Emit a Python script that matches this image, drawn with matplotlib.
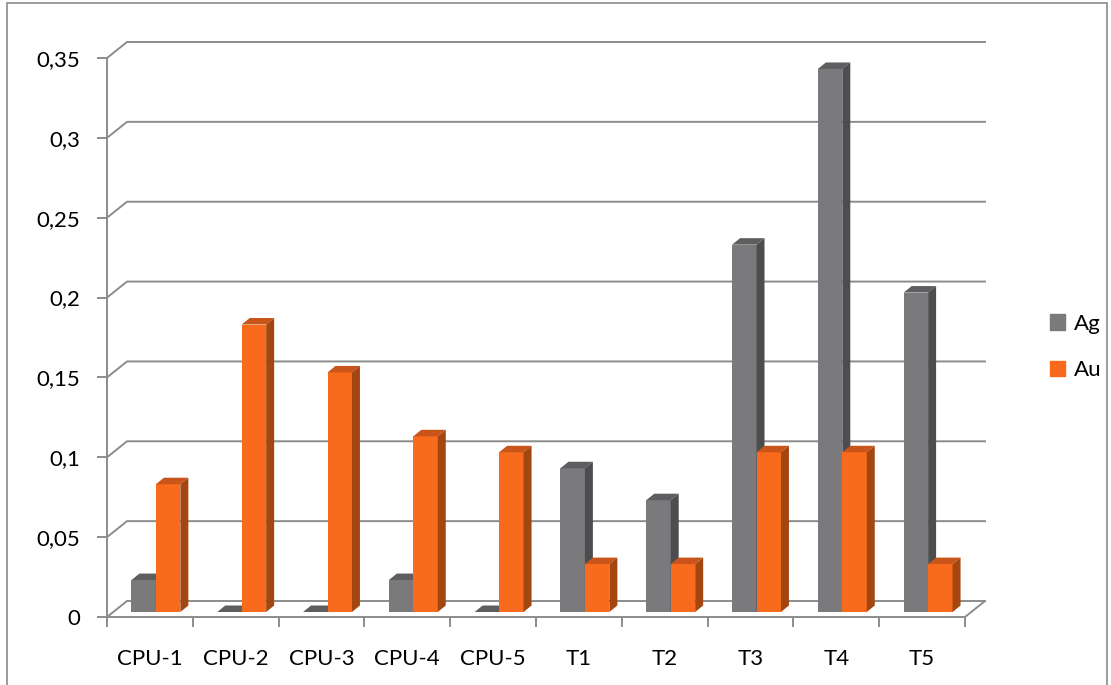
import matplotlib
matplotlib.use("Agg")
import matplotlib.pyplot as plt
from matplotlib.patches import Polygon, Rectangle, Patch
import numpy as np

plt.rcParams['font.family'] = ['Lato', 'DejaVu Sans']

# Data
categories = ["CPU-1", "CPU-2", "CPU-3", "CPU-4", "CPU-5", "T1", "T2", "T3", "T4", "T5"]
ag = [0.02, 0.0, 0.0, 0.02, 0.0, 0.09, 0.07, 0.23, 0.34, 0.20]
au = [0.08, 0.18, 0.15, 0.11, 0.10, 0.03, 0.03, 0.10, 0.10, 0.03]
yticks = [0, 0.05, 0.1, 0.15, 0.2, 0.25, 0.3, 0.35]
ytick_labels = ["0", "0,05", "0,1", "0,15", "0,2", "0,25", "0,3", "0,35"]

# Palette
C_GRID = "#8c8c8c"
C_AG = ("#7a7a7d", "#5e5e60", "#4d4d4f")   # front, top, side
C_AU = ("#f96b1c", "#c9551a", "#a3460f")
FS = 16

W, H = 1111, 685
fig = plt.figure(figsize=(W / 100, H / 100), dpi=100)
# front floor: x 107..965 px, front wall: y 617..58 px
ax = fig.add_axes([107 / W, (H - 617) / H, (965 - 107) / W, (617 - 58) / H])
ax.set_xlim(-0.5, 9.5)
ax.set_ylim(0, 0.35)

# pixel -> data scale
sx = 10 / (965 - 107)
sy = 0.35 / (617 - 58)
DX, DY = 20 * sx, 16 * sy          # wall depth

for s in ax.spines.values():
    s.set_visible(False)

# back wall gridlines + left wall slants
for v in yticks:
    ax.plot([-0.5, -0.5 + DX, 9.5 + DX], [v, v + DY, v + DY],
            color=C_GRID, lw=1.4, clip_on=False, zorder=1)
# floor
ax.plot([-0.5, 9.5, 9.5 + DX], [0, 0, DY], color=C_GRID, lw=1.4, clip_on=False, zorder=1)
# front wall edge
ax.plot([-0.5, -0.5], [0, 0.35], color=C_GRID, lw=1.4, clip_on=False, zorder=1)

# bars with depth
w = 0.285
shift = 6 * sx
base = 5 * sy
bdx, bdy = 8 * sx, 6.5 * sy
x = np.arange(len(categories))


def draw_bars(xc, vals, cols):
    ax.bar(xc, vals, w, bottom=base, color=cols[0], zorder=3, clip_on=False)
    for xi, v in zip(xc, vals):
        x0, x1 = xi - w / 2, xi + w / 2
        top = base + v
        ax.add_patch(Polygon([(x0, top), (x1, top), (x1 + bdx, top + bdy), (x0 + bdx, top + bdy)],
                             closed=True, facecolor=cols[1], edgecolor="none", zorder=3, clip_on=False))
        ax.add_patch(Polygon([(x1, base), (x1 + bdx, base + bdy), (x1 + bdx, top + bdy), (x1, top)],
                             closed=True, facecolor=cols[2], edgecolor="none", zorder=3, clip_on=False))


draw_bars(x + shift - w / 2, ag, C_AG)
draw_bars(x + shift + w / 2, au, C_AU)

# ticks
ax.set_yticks(yticks)
ax.set_yticklabels(ytick_labels)
ax.tick_params(axis="y", length=7, width=1.4, color=C_GRID, pad=12, labelsize=FS)
ax.set_xticks(np.arange(-0.5, 10, 1))
ax.set_xticklabels([])
ax.tick_params(axis="x", which="major", length=7, width=1.4, color=C_GRID)
ax.set_xticks(x, minor=True)
ax.set_xticklabels(categories, minor=True)
ax.tick_params(axis="x", which="minor", length=0, pad=23, labelsize=FS)

# legend
handles = [Patch(color=C_AG[0], label="Ag"), Patch(color=C_AU[0], label="Au")]
fig.legend(handles=handles, loc="center left", bbox_to_anchor=(1030 / W, 1 - 347 / H),
           frameon=False, fontsize=FS, handlelength=0.68, handleheight=0.68,
           handletextpad=0.4, labelspacing=1.2)

# outer border
fig.add_artist(Rectangle((7 / W, -0.1), (1107 - 7) / W, (H - 3) / H + 0.1,
                         transform=fig.transFigure, facecolor="none",
                         edgecolor="#8a8a8a", lw=1.2))

fig.savefig("out.png", dpi=100, facecolor="white")
